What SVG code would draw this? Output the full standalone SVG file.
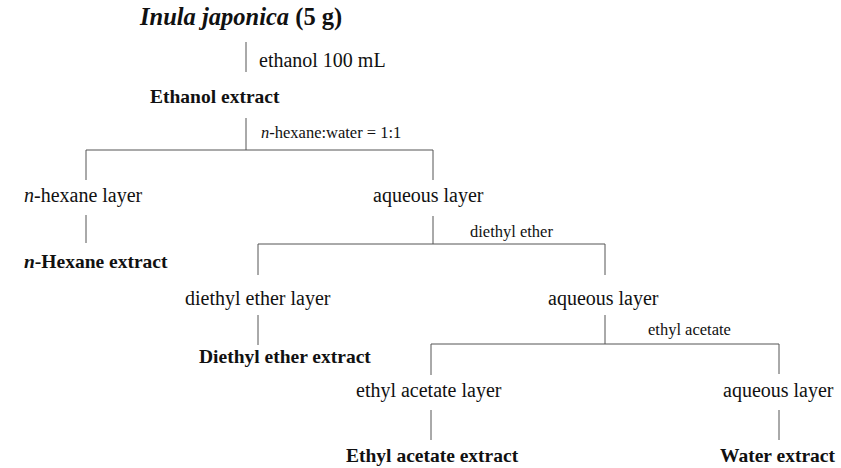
<svg xmlns="http://www.w3.org/2000/svg" width="841" height="468" viewBox="0 0 841 468">
<style>
text{font-family:"Liberation Serif","Times New Roman",serif;fill:#111}
.t{font-size:20px}
.b{font-size:19.5px;font-weight:bold}
.l{font-size:16.5px}
.ti{font-size:24.5px;font-weight:bold}
#connectors line{stroke:#555;stroke-width:1;fill:none}
</style>
<rect width="841" height="468" fill="#fff"/>
<g id="connectors">
<line x1="246" y1="42" x2="246" y2="72"/>
<line x1="246" y1="118" x2="246" y2="150"/>
<line x1="86" y1="150" x2="433" y2="150"/>
<line x1="86" y1="150" x2="86" y2="180"/>
<line x1="433" y1="150" x2="433" y2="180"/>
<line x1="86" y1="215" x2="86" y2="243"/>
<line x1="433" y1="216" x2="433" y2="244"/>
<line x1="258" y1="244" x2="605" y2="244"/>
<line x1="258" y1="244" x2="258" y2="275"/>
<line x1="605" y1="244" x2="605" y2="275"/>
<line x1="258" y1="315" x2="258" y2="345"/>
<line x1="605" y1="315" x2="605" y2="344"/>
<line x1="431" y1="344" x2="779" y2="344"/>
<line x1="431" y1="344" x2="431" y2="375"/>
<line x1="779" y1="344" x2="779" y2="374"/>
<line x1="431" y1="410" x2="431" y2="440"/>
<line x1="779" y1="410" x2="779" y2="440"/>
</g>
<g id="n-start"><text class="ti" x="140" y="25"><tspan font-style="italic">Inula japonica</tspan> (5 g)</text></g>
<g id="lbl-ethanol"><text class="t" x="259" y="67">ethanol 100 mL</text></g>
<g id="n-ethanol-extract"><text class="b" x="150" y="103">Ethanol extract</text></g>
<g id="lbl-hexane-water"><text class="l" x="261" y="138"><tspan font-style="italic">n</tspan>-hexane:water = 1:1</text></g>
<g id="n-hexane-layer"><text class="t" x="24" y="202"><tspan font-style="italic">n</tspan>-hexane layer</text></g>
<g id="n-aqueous-1"><text class="t" x="373" y="202">aqueous layer</text></g>
<g id="lbl-diethyl"><text class="l" x="470" y="237">diethyl ether</text></g>
<g id="n-hexane-extract"><text class="b" x="24" y="268"><tspan font-style="italic">n</tspan>-Hexane extract</text></g>
<g id="n-diethyl-layer"><text class="t" x="185" y="305">diethyl ether layer</text></g>
<g id="n-aqueous-2"><text class="t" x="548" y="305">aqueous layer</text></g>
<g id="lbl-ethylacetate"><text class="l" x="648" y="335">ethyl acetate</text></g>
<g id="n-diethyl-extract"><text class="b" x="199" y="363">Diethyl ether extract</text></g>
<g id="n-ethylacetate-layer"><text class="t" x="356" y="397">ethyl acetate layer</text></g>
<g id="n-aqueous-3"><text class="t" x="723" y="397">aqueous layer</text></g>
<g id="n-ethylacetate-extract"><text class="b" x="346" y="462">Ethyl acetate extract</text></g>
<g id="n-water-extract"><text class="b" x="720" y="462">Water extract</text></g>
</svg>
